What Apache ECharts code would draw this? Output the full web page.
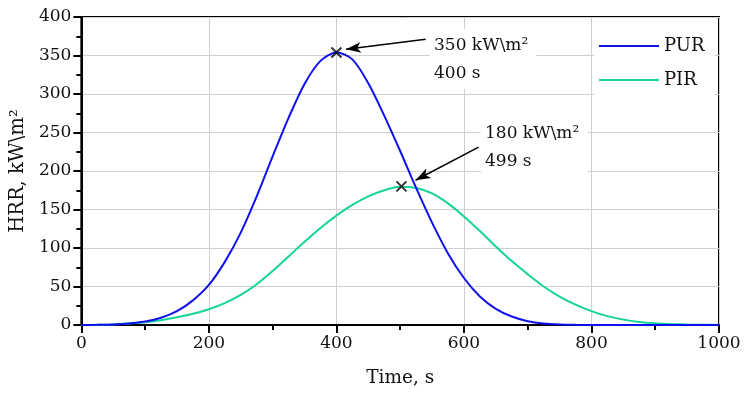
<!DOCTYPE html>
<html><head><meta charset="utf-8">
<script src="https://cdn.jsdelivr.net/npm/echarts@6/dist/echarts.min.js"></script>
<style>html,body{margin:0;padding:0;background:#fff}#c{width:748px;height:396px}</style>
</head><body><div id="c"></div>
<script>
const time = [0,25,50,75,100,125,150,175,200,225,250,275,300,325,350,375,400,425,450,475,500,525,550,575,600,625,650,675,700,725,750,775,800,825,850,875,900,925,950,975,1000];
const pur = [0,0.2,0.6,1.8,4.5,9.5,18,32,52,82,120,167,219,269,313,343,354,345,314,272,226,178,133,93,61,37,21,11,5,2,0.7,0.2,0,0,0,0,0,0,0,0,0];
const pir = [0,0.3,0.8,2,3.5,6.3,10,14.5,20.5,28.5,39,53,70,89,108,126,142,156,167,175,179.5,178,171,158,141,122,102,83,66,50,37,26.5,18,11.5,7,4,2.3,1.3,0.7,0.3,0.1];
const peaks = [[400,354],[502,180]];
const labels = ['350 kW\\m²\n400 s', '180 kW\\m²\n499 s'];
const labelAt = [[546,345],[626,231]];
const arrows = [[[540,371],[415,358]],[[623,231],[524,188]]];
const xTicks = [0,200,400,600,800,1000];
const yTicks = [0,50,100,150,200,250,300,350,400];

const FONT = 'DejaVu Serif';
const chart = echarts.init(document.getElementById('c'), null, {renderer:'canvas'});
chart.setOption({
  animation: false,
  textStyle: {fontFamily: FONT, fontSize: 17, color: '#111'},
  grid: {left: 80, right: 29, top: 17, bottom: 71, show: true, borderColor: '#000', borderWidth: 2},
  legend: {
    data: ['PUR','PIR'], orient: 'vertical', left: 594, top: 18, width: 118,
    backgroundColor: '#fff', padding: [19, 10, 16, 5], itemGap: 16,
    icon: 'rect', itemWidth: 60, itemHeight: 2,
    textStyle: {fontFamily: FONT, fontSize: 18, color: '#111', padding: [0,0,0,0]}
  },
  xAxis: {
    type: 'value', min: xTicks[0], max: xTicks[xTicks.length-1], interval: 200,
    name: 'Time, s', nameLocation: 'middle', nameGap: 44,
    nameTextStyle: {fontFamily: FONT, fontSize: 18.5, color: '#111'},
    axisLine: {lineStyle: {color: '#000', width: 2}},
    axisTick: {show: true, inside: false, length: 8, lineStyle: {color: '#000', width: 2}},
    minorTick: {show: true, splitNumber: 2, length: 5, lineStyle: {color: '#000', width: 2}},
    axisLabel: {fontFamily: FONT, fontSize: 17, color: '#111', margin: 10, formatter: v => String(v)},
    splitLine: {show: true, lineStyle: {color: '#cfcfcf', width: 1}}
  },
  yAxis: {
    type: 'value', min: yTicks[0], max: yTicks[yTicks.length-1], interval: 50,
    name: 'HRR, kW\\m²', nameLocation: 'middle', nameGap: 52, nameRotate: 90,
    nameTextStyle: {fontFamily: FONT, fontSize: 19.5, color: '#111'},
    axisLine: {lineStyle: {color: '#000', width: 2}},
    axisTick: {show: true, inside: false, length: 8, lineStyle: {color: '#000', width: 2}},
    minorTick: {show: true, splitNumber: 2, length: 5, lineStyle: {color: '#000', width: 2}},
    axisLabel: {fontFamily: FONT, fontSize: 17, color: '#111', margin: 10, formatter: v => String(v)},
    splitLine: {show: true, lineStyle: {color: '#cfcfcf', width: 1}}
  },
  series: [
    {name: 'PUR', type: 'line', smooth: 0.3, symbol: 'none', data: time.map((t,i)=>[t,pur[i]]),
     lineStyle: {color: '#1010ee', width: 2}, itemStyle: {color: '#1010ee'}, z: 3},
    {name: 'PIR', type: 'line', smooth: 0.3, symbol: 'none', data: time.map((t,i)=>[t,pir[i]]),
     lineStyle: {color: '#14d496', width: 2}, itemStyle: {color: '#14d496'}, z: 2},
    {name: 'peaks', type: 'scatter', data: peaks, symbol: 'path://M0,0L10,10M10,0L0,10', symbolSize: 10,
     itemStyle: {color: 'none', borderColor: '#000', borderWidth: 2}, z: 5,
     markLine: {silent: true, symbol: ['none','arrow'], symbolSize: [8,15], label: {show: false},
       lineStyle: {color: '#000', width: 1.5, type: 'solid'},
       data: arrows.map(a => [{coord: a[0]}, {coord: a[1]}])},
     markPoint: {silent: true, symbol: 'rect', symbolSize: 1, itemStyle: {color: 'rgba(0,0,0,0)'},
       data: labelAt.map((c,i) => ({coord: c, label: {show: true, position: 'right', distance: 0,
         formatter: labels[i], fontFamily: FONT, fontSize: 17, color: '#111', lineHeight: 28,
         backgroundColor: '#fff', padding: [2, 8, 2, 4], align: 'left'}}))}
    }
  ]
});
</script></body></html>
